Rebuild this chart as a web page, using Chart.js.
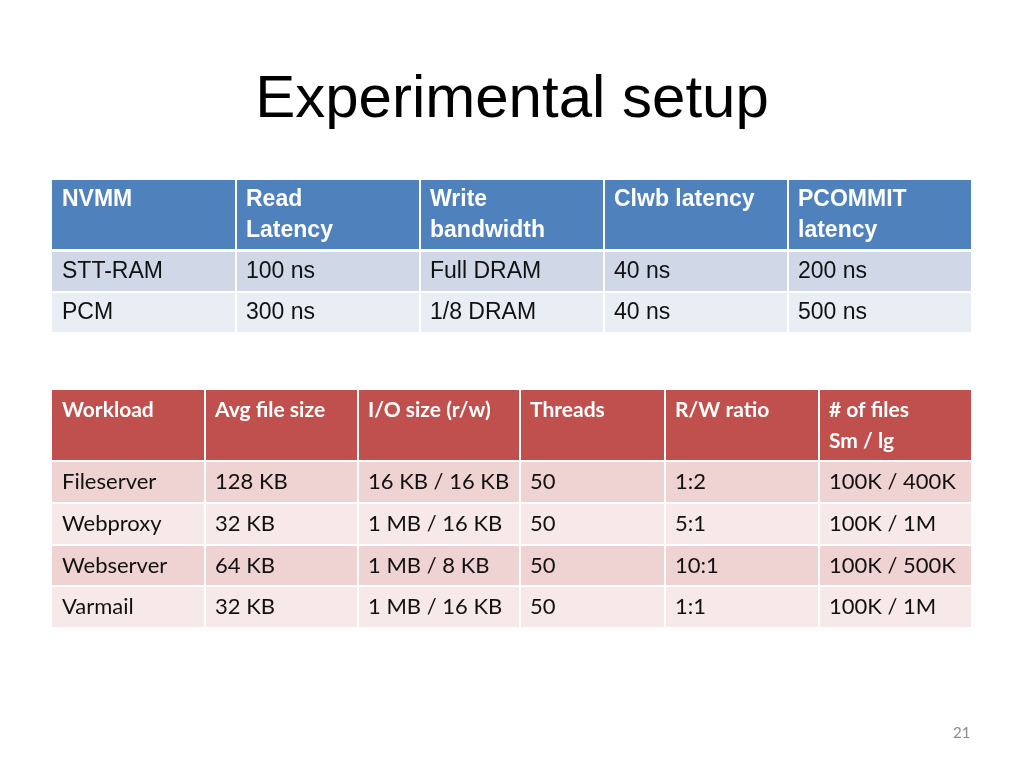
<!DOCTYPE html>
<html>
<head>
<meta charset="utf-8">
<script src="https://cdn.jsdelivr.net/npm/chart.js@4"></script>
<style>
  html, body { margin: 0; padding: 0; background: #fff; }
  #slide { display: block; }
</style>
</head>
<body>
<canvas id="slide" width="1024" height="768"></canvas>
<script>
const titleText = "Experimental setup";
const pageNumber = "21";

const nvmmHeader = ["NVMM", "Read\nLatency", "Write\nbandwidth", "Clwb latency", "PCOMMIT\nlatency"];
const nvmmRows = [
    ["STT-RAM", "100 ns", "Full DRAM", "40 ns", "200 ns"],
    ["PCM", "300 ns", "1/8 DRAM", "40 ns", "500 ns"]
];

const workloadHeader = ["Workload", "Avg file size", "I/O size (r/w)", "Threads", "R/W ratio", "# of files\nSm / lg"];
const workloadRows = [
    ["Fileserver", "128 KB", "16 KB / 16 KB", "50", "1:2", "100K / 400K"],
    ["Webproxy", "32 KB", "1 MB / 16 KB", "50", "5:1", "100K / 1M"],
    ["Webserver", "64 KB", "1 MB / 8 KB", "50", "10:1", "100K / 500K"],
    ["Varmail", "32 KB", "1 MB / 16 KB", "50", "1:1", "100K / 1M"]
];

// layout of the two tables on the slide
const tableStyles = [
    {
        header: nvmmHeader, rows: nvmmRows,
        cols: [52, 236, 420, 604, 788, 972],
        rowsY: [[180, 249], [252, 291], [293, 332]],
        headColor: '#4F81BD', rowColors: ['#D0D8E8', '#E9EDF4'],
        headFont: 'bold 23px "Liberation Sans", Arial, sans-serif',
        bodyFont: '23px "Liberation Sans", Arial, sans-serif',
        lineH: 31, pad: 10
    },
    {
        header: workloadHeader, rows: workloadRows,
        cols: [52, 205, 358, 520, 665, 819, 972],
        rowsY: [[390, 460], [462, 502], [504, 544], [546, 585], [587, 627]],
        headColor: '#C0504D', rowColors: ['#EFD3D2', '#F7E9E9'],
        headFont: 'bold 21px Lato, "Open Sans", sans-serif',
        bodyFont: '22px Lato, "Open Sans", sans-serif',
        lineH: 31, pad: 10
    }
];

function drawTable(ctx, t) {
    const all = [t.header].concat(t.rows);
    all.forEach((row, r) => {
        const [y0, y1] = t.rowsY[r];
        row.forEach((txt, c) => {
            const x0 = t.cols[c] + (c > 0 ? 1 : 0);
            const x1 = t.cols[c + 1] - 1;
            ctx.fillStyle = r === 0 ? t.headColor : t.rowColors[(r - 1) % 2];
            ctx.fillRect(x0, y0, x1 - x0, y1 - y0);
            ctx.fillStyle = r === 0 ? '#fff' : '#111';
            ctx.font = r === 0 ? t.headFont : t.bodyFont;
            ctx.textBaseline = 'middle';
            ctx.textAlign = 'left';
            txt.split('\n').forEach((line, i) => {
                const y = r === 0 ? y0 + 20 + i * t.lineH : (y0 + y1) / 2;
                ctx.fillText(line, t.cols[c] + t.pad, y);
            });
        });
    });
}

const slidePlugin = {
    id: 'slide',
    afterDraw(chart) {
        const ctx = chart.ctx;
        ctx.save();
        ctx.fillStyle = '#000';
        ctx.font = '60px "Liberation Sans", Arial, sans-serif';
        ctx.textAlign = 'center';
        ctx.textBaseline = 'middle';
        ctx.fillText(titleText, 512, 100);
        tableStyles.forEach(t => drawTable(ctx, t));
        ctx.fillStyle = '#8c8c8c';
        ctx.font = '15px Lato, sans-serif';
        ctx.fillText(pageNumber, 953, 733);
        ctx.restore();
    }
};

new Chart(document.getElementById('slide'), {
    type: 'bar',
    data: { labels: nvmmHeader, datasets: [] },
    options: {
        responsive: false,
        animation: false,
        plugins: { legend: { display: false }, tooltip: { enabled: false } },
        scales: { x: { display: false }, y: { display: false } }
    },
    plugins: [slidePlugin]
});
</script>
</body>
</html>
